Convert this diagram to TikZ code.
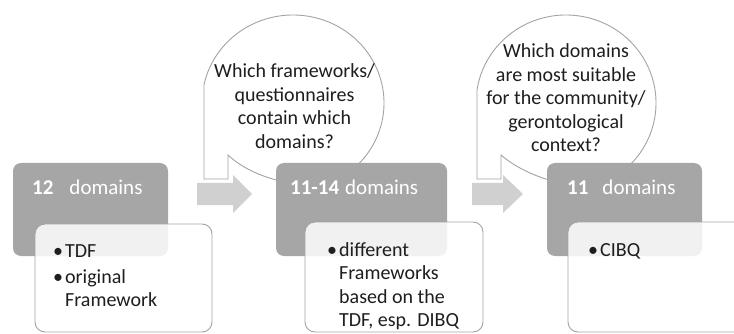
\documentclass[tikz,border=0pt]{standalone}
\usepackage{fontspec}
\setmainfont{Carlito}
\usetikzlibrary{calc}
\definecolor{headgray}{HTML}{A6A6A6}
\definecolor{arrowgray}{HTML}{D0D0D0}
\definecolor{linegray}{HTML}{A3A3A3}
\definecolor{inkgray}{HTML}{1E1E1E}
% bullet with a fixed hanging indent
\newcommand\bulmark{\makebox[12pt][l]{\textbullet}}
\newcommand\bulgap{\hspace*{12pt}}

\begin{document}
\begin{tikzpicture}[x=1pt,y=-1pt,
  headbox/.style={fill=headgray, rounded corners=8pt},
  listbox/.style={draw=linegray, line width=0.9pt, fill=white, fill opacity=0.85, rounded corners=10pt},
  bubble/.style={draw=linegray, line width=0.9pt, fill=white},
  flow/.style={fill=arrowgray},
  headtext/.style={anchor=base west, inner sep=0pt, text=white, font=\fontsize{21}{25}\selectfont},
  listtext/.style={anchor=base west, inner sep=0pt, text=inkgray, font=\fontsize{20}{23.5}\selectfont},
  asktext/.style={anchor=base, inner sep=0pt, text=inkgray, font=\fontsize{20}{23.5}\selectfont},
]
\useasboundingbox (0,0) rectangle (734,334);

% speech bubbles with a square tail at the lower left
\draw[bubble] (204,179) -- (228,179) -- (228,155)
  .. controls (242,168) and (260,176) .. (280,181)
  -- ($(293,103)+(60:91 and 88)$)
  arc[start angle=60, end angle=-168, x radius=91, y radius=88] -- cycle;
\draw[bubble] (477,179) -- (501,179) -- (501,155)
  .. controls (515,167) and (532,175) .. (552,181)
  -- ($(566,103)+(60:90 and 88)$)
  arc[start angle=60, end angle=-171.5, x radius=90, y radius=88] -- cycle;

% block arrows between the stages
\fill[flow] (197,183) -- (233,183) -- (233,175) -- (252,194) -- (233,213) -- (233,205) -- (197,205) -- cycle;
\fill[flow] (472,183) -- (503,183) -- (503,175) -- (523,194) -- (503,213) -- (503,205) -- (472,205) -- cycle;

% stage headers
\fill[headbox] (13,163) rectangle (168,256);
\fill[headbox] (276,163) rectangle (447,256);
\fill[headbox] (547,163) rectangle (702,256);

% stage details
\draw[listbox] (35,224) rectangle (212,332);
\draw[listbox] (305,222) rectangle (483,332);
\draw[listbox] (568,222) rectangle (750,332);

\node[headtext] (h1) at (32,195) {\textbf{12}\hspace{16pt}domains};
\node[headtext] (h2) at (290,195) {\textbf{11-14}\hspace{6pt}domains};
\node[headtext] (h3) at (567,195) {\textbf{11}\hspace{14pt}domains};

\node[listtext] (l1) at (53,257) {\parbox[t]{160pt}{\raggedright
  \bulmark TDF\\[2.5pt]\bulmark original\\\bulgap Framework}};
\node[listtext] (l2) at (327,256) {\parbox[t]{160pt}{\raggedright
  \bulmark different\\\bulgap Frameworks\\\bulgap based on the\\\bulgap TDF, esp. DIBQ}};
\node[listtext] (l3) at (588,256) {\parbox[t]{140pt}{\raggedright\bulmark CIBQ}};

\node[asktext] (q1) at (294.5,78) {\begin{tabular}[t]{@{}c@{}}
  Which frameworks/\\questionnaires\\contain which\\domains?\end{tabular}};
\node[asktext] (q2) at (566,58) {\begin{tabular}[t]{@{}c@{}}
  Which domains\\are most suitable\\for the community/\\gerontological\\context?\end{tabular}};
\end{tikzpicture}
\end{document}
